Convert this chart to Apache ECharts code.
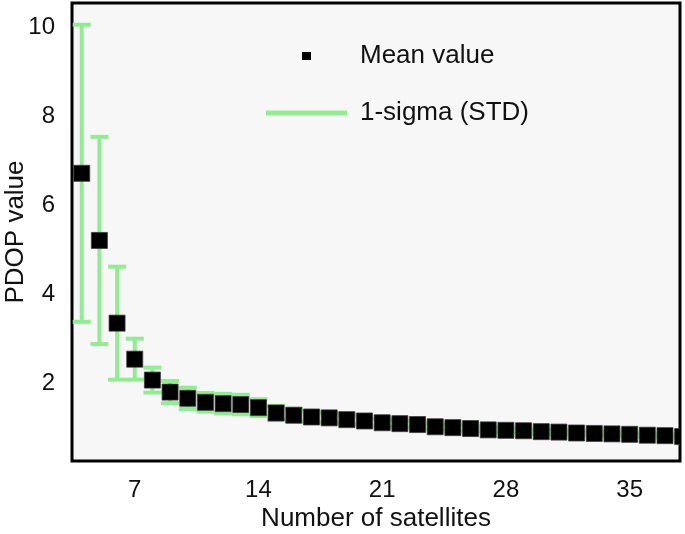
<!DOCTYPE html>
<html>
<head>
<meta charset="utf-8">
<script src="https://cdn.jsdelivr.net/npm/echarts@6/dist/echarts.min.js"></script>
<style>
html,body{margin:0;padding:0;background:#fff;}
#chart{width:685px;height:534px;}
</style>
</head>
<body>
<div id="chart"></div>
<script>
var satellites = [4,5,6,7,8,9,10,11,12,13,14,15,16,17,18,19,20,21,22,23,24,25,26,27,28,29,30,31,32,33,34,35,36,37,38];
var meanValues = [6.72,5.21,3.35,2.54,2.07,1.80,1.66,1.57,1.54,1.52,1.45,1.33,1.28,1.24,1.22,1.18,1.15,1.11,1.09,1.07,1.02,1.00,0.98,0.95,0.94,0.93,0.91,0.90,0.88,0.87,0.86,0.85,0.83,0.82,0.80];
var stdValues = [3.34,2.33,1.27,0.46,0.28,0.25,0.24,0.21,0.22,0.22,0.19,0.16,0.14,0.12,0.11,0.10,0.09,0.08,0.07,0.07,0.06,0.06,0.06,0.05,0.05,0.05,0.05,0.05,0.05,0.04,0.04,0.04,0.04,0.04,0.04];
var xTicks = [7,14,21,28,35];
var yTicks = [2,4,6,8,10];

var meanData = satellites.map(function(s,i){return [s, meanValues[i]];});
var errData = satellites.map(function(s,i){return [s, meanValues[i]-stdValues[i], meanValues[i]+stdValues[i]];});

var FONT = '"Liberation Sans", Arial, sans-serif';
var GREEN = '#90EE90';

var chart = echarts.init(document.getElementById('chart'), null, {renderer:'canvas'});

function baseX(pos, showLabel){
  return {
    type:'value', position:pos, min:3.45, max:37.85,
    axisLine:{show:false},
    splitLine:{show:false},
    axisTick:{show:true, inside:true, length:8, customValues:xTicks, lineStyle:{color:'#000', width:2.5}},
    axisLabel:{show:showLabel, customValues:xTicks, margin:17, fontSize:24, color:'#111', fontFamily:FONT}
  };
}
function baseY(pos, showLabel){
  return {
    type:'value', position:pos, min:0.25, max:10.55,
    axisLine:{show:false},
    splitLine:{show:false},
    axisTick:{show:true, inside:true, length:8, customValues:yTicks, lineStyle:{color:'#000', width:2.5}},
    axisLabel:{show:showLabel, customValues:yTicks, margin:17, fontSize:24, color:'#111', fontFamily:FONT}
  };
}

var xBottom = baseX('bottom', true);
xBottom.name = 'Number of satellites';
xBottom.nameLocation = 'middle';
xBottom.nameGap = 45;
xBottom.nameMoveOverlap = false;
xBottom.nameTextStyle = {fontSize:26, color:'#111', fontFamily:FONT};
var xTop = baseX('top', false);

var yLeft = baseY('left', true);
yLeft.name = 'PDOP value';
yLeft.nameLocation = 'middle';
yLeft.nameGap = 43;
yLeft.nameMoveOverlap = false;
yLeft.nameTextStyle = {fontSize:26, color:'#111', fontFamily:FONT};
var yRight = baseY('right', false);

var option = {
  animation:false,
  backgroundColor:'#fff',
  grid:{left:72, right:5, top:3, bottom:73, outerBoundsMode:'none', containLabel:false,
        show:true, backgroundColor:'#f7f7f7', borderColor:'#000', borderWidth:3, z:1},
  xAxis:[xBottom, xTop],
  yAxis:[yLeft, yRight],
  legend:{
    orient:'vertical', left:266, top:41, padding:0,
    itemWidth:81, itemHeight:8, itemGap:27,
    textStyle:{fontSize:26, color:'#111', fontFamily:FONT, lineHeight:30, padding:[0,0,0,8]},
    data:[
      {name:'Mean value', icon:'path://M0,0 M81,8 M36,0h9v8h-9z'},
      {name:'1-sigma (STD)', icon:'path://M0,0 M81,8 M0,1.5h81v5h-81z'}
    ]
  },
  series:[
    {
      name:'1-sigma (STD)',
      type:'custom',
      xAxisIndex:0, yAxisIndex:0,
      clip:true,
      itemStyle:{color:GREEN},
      data:errData,
      z:2,
      renderItem:function(params, api){
        var x = api.value(0), lo = api.value(1), hi = api.value(2);
        var pHi = api.coord([x, hi]);
        var pLo = api.coord([x, lo]);
        var hw = 9;
        var st = {stroke:GREEN, lineWidth:4, fill:null};
        return {type:'group', children:[
          {type:'line', shape:{x1:pHi[0], y1:pHi[1], x2:pLo[0], y2:pLo[1]}, style:st},
          {type:'line', shape:{x1:pHi[0]-hw, y1:pHi[1], x2:pHi[0]+hw, y2:pHi[1]}, style:st},
          {type:'line', shape:{x1:pLo[0]-hw, y1:pLo[1], x2:pLo[0]+hw, y2:pLo[1]}, style:st}
        ]};
      }
    },
    {
      name:'Mean value',
      type:'custom',
      xAxisIndex:0, yAxisIndex:0,
      clip:true,
      itemStyle:{color:'#000'},
      data:meanData,
      z:3,
      renderItem:function(params, api){
        var p = api.coord([api.value(0), api.value(1)]);
        var s = 16;
        return {type:'rect', shape:{x:p[0]-s/2, y:p[1]-s/2, width:s, height:s},
                style:{fill:'#000', stroke:'#3a3a3a', lineWidth:0.8}};
      }
    }
  ]
};
chart.setOption(option);
</script>
</body>
</html>
